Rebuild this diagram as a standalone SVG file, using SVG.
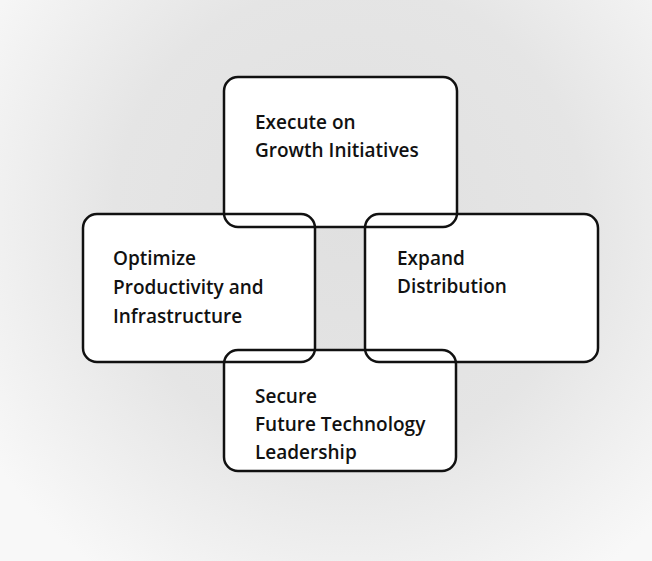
<svg xmlns="http://www.w3.org/2000/svg" xmlns:xlink="http://www.w3.org/1999/xlink" width="652" height="561" viewBox="0 0 652 561">
  <style>
    .paper { fill: #ffffff; stroke: none; }
    .frame { fill: none; stroke: #111111; stroke-width: 2.5; }
    .label { font-family: "Open Sans", "Liberation Sans", sans-serif; font-size: 19px; font-weight: 600; fill: #111111; }
  </style>
  <defs>
    <radialGradient id="tone" cx="350" cy="220" r="430" gradientUnits="userSpaceOnUse">
      <stop offset="0" stop-color="#e0e0e0"/>
      <stop offset="0.55" stop-color="#e5e5e5"/>
      <stop offset="1" stop-color="#f8f8f8"/>
    </radialGradient>
    <rect id="box-top" x="224" y="77" width="233" height="150" rx="14"/>
    <rect id="box-left" x="83" y="214" width="232" height="148" rx="14"/>
    <rect id="box-right" x="365" y="214" width="233" height="148" rx="14"/>
    <rect id="box-bottom" x="224" y="350" width="232" height="121" rx="14"/>
  </defs>

  <!-- toned backdrop -->
  <rect x="0" y="0" width="652" height="561" fill="url(#tone)"/>

  <!-- white box faces under all frames so every outline stays visible -->
  <g id="faces">
    <use xlink:href="#box-top" class="paper"/>
    <use xlink:href="#box-left" class="paper"/>
    <use xlink:href="#box-right" class="paper"/>
    <use xlink:href="#box-bottom" class="paper"/>
  </g>

  <g id="connectors"/>

  <g id="node-growth">
    <use xlink:href="#box-top" class="frame"/>
    <text class="label" x="255" y="129">Execute on</text>
    <text class="label" x="255" y="157">Growth Initiatives</text>
  </g>

  <g id="node-productivity">
    <use xlink:href="#box-left" class="frame"/>
    <text class="label" x="113" y="265">Optimize</text>
    <text class="label" x="113" y="294">Productivity and</text>
    <text class="label" x="113" y="323">Infrastructure</text>
  </g>

  <g id="node-distribution">
    <use xlink:href="#box-right" class="frame"/>
    <text class="label" x="397" y="265">Expand</text>
    <text class="label" x="397" y="293">Distribution</text>
  </g>

  <g id="node-technology">
    <use xlink:href="#box-bottom" class="frame"/>
    <text class="label" x="255" y="403">Secure</text>
    <text class="label" x="255" y="431">Future Technology</text>
    <text class="label" x="255" y="459">Leadership</text>
  </g>
</svg>
